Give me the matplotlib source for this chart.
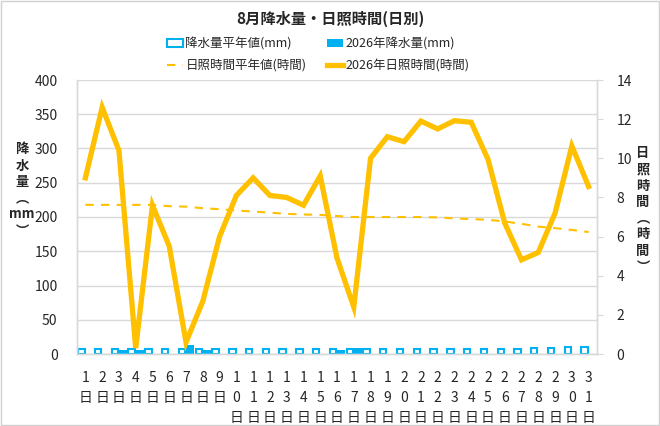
import numpy as np
import matplotlib
matplotlib.use("Agg")
import matplotlib.pyplot as plt
from matplotlib.patches import Rectangle

plt.rcParams['font.family'] = ['Noto Sans CJK JP', 'DejaVu Sans']

days = list(range(1, 32))
rain_avg = [7.5] * 24 + [8.0, 8.0, 8.0, 8.5, 8.5, 10.0, 10.0]
rain_2026 = [0, 0, 6, 6, 0, 0, 13.5, 5.5, 0, 0, 0, 0, 0, 0, 0, 5.5, 9,
             0, 0, 0, 0, 0, 0, 0, 0, 0, 0, 0, 0, 0, 0]
sun_avg = [7.62, 7.62, 7.62, 7.62, 7.62, 7.55, 7.53, 7.45, 7.40, 7.33,
           7.28, 7.22, 7.16, 7.13, 7.11, 7.05, 7.0, 7.0, 7.0, 7.0, 7.0,
           6.98, 6.93, 6.89, 6.86, 6.77, 6.65, 6.51, 6.43, 6.34, 6.23]
sun_2026 = [9.0, 12.6, 10.4, 0.3, 7.6, 5.5, 0.6, 2.7, 6.0, 8.1, 9.0, 8.1,
            8.0, 7.6, 9.1, 4.9, 2.4, 10.0, 11.1, 10.85, 11.9, 11.5, 11.92,
            11.84, 9.95, 6.69, 4.81, 5.19, 7.2, 10.63, 8.56]
xlabels = ['\n'.join(list(str(d)) + ['日']) for d in days]

blue = '#00B0F0'
gold = '#FFC000'
grid = '#D9D9D9'
txt = '#262626'

fig = plt.figure(figsize=(6.6, 4.26), dpi=100)
fig.patches.append(Rectangle((0.002, 0.002), 0.996, 0.995, transform=fig.transFigure,
                             fill=False, edgecolor='#D0D0D0', linewidth=1))

ax = fig.add_axes([77 / 660, (426 - 354) / 426, 520 / 660, 274 / 426])
ax2 = ax.twinx()

x = np.arange(len(days))
b1 = ax.bar(x - 0.24, rain_avg, width=0.38, facecolor='white', edgecolor=blue,
            linewidth=1.5, label='降水量平年値(mm)', zorder=2)
b2 = ax.bar(x + 0.25, rain_2026, width=0.5, color=blue, label='2026年降水量(mm)', zorder=2)

l1, = ax2.plot(x, sun_avg, color=gold, linewidth=1.5, dashes=(4, 3.5),
               label='日照時間平年値(時間)')
l2, = ax2.plot(x, sun_2026, color=gold, linewidth=3.8, solid_joinstyle='miter',
               label='2026年日照時間(時間)')

ax.set_xlim(-0.5, 30.5)
ax.set_ylim(0, 400)
ax.set_yticks(np.arange(0, 401, 50))
ax2.set_ylim(0, 14)
ax2.set_yticks(np.arange(0, 15, 2))

ax.yaxis.grid(True, color=grid, linewidth=1)
ax.set_axisbelow(True)
ax.spines['top'].set_visible(False)
ax2.spines['top'].set_visible(False)
for a in (ax, ax2):
    for s in ['left', 'right', 'bottom']:
        a.spines[s].set_color(grid)
        a.spines[s].set_linewidth(1)

ax.tick_params(axis='y', length=0, pad=14, labelsize=10, labelcolor=txt)
ax2.tick_params(axis='y', length=4, color=grid, pad=10, labelsize=10, labelcolor=txt)
ax.set_xticks(x)
ax.set_xticklabels(xlabels, fontsize=10, color=txt, linespacing=1.55, va='top')
ax.tick_params(axis='x', length=0, pad=12)

fig.text(22 / 660, 1 - 190 / 426, '降\n水\n量\n︵\nmm\n︶', ha='center', va='center',
         fontsize=9.5, fontweight='bold', color=txt, linespacing=1.2)
fig.text(643 / 660, 1 - 210 / 426, '日\n照\n時\n間\n︵\n時\n間\n︶', ha='center', va='center',
         fontsize=9.5, fontweight='bold', color=txt, linespacing=1.2)

fig.text(0.5, 1 - 19 / 426, '8月降水量・日照時間(日別)', ha='center', va='center',
         fontsize=11, fontweight='bold', color=txt)

fig.legend(handles=[b1, l1, b2, l2], ncol=2, loc='center', bbox_to_anchor=(318 / 660, 1 - 55 / 426),
           frameon=False, fontsize=9, handlelength=1.3, handletextpad=0.2,
           columnspacing=1.6, labelspacing=0.75, labelcolor=txt)

fig.savefig('out.png', dpi=100)
